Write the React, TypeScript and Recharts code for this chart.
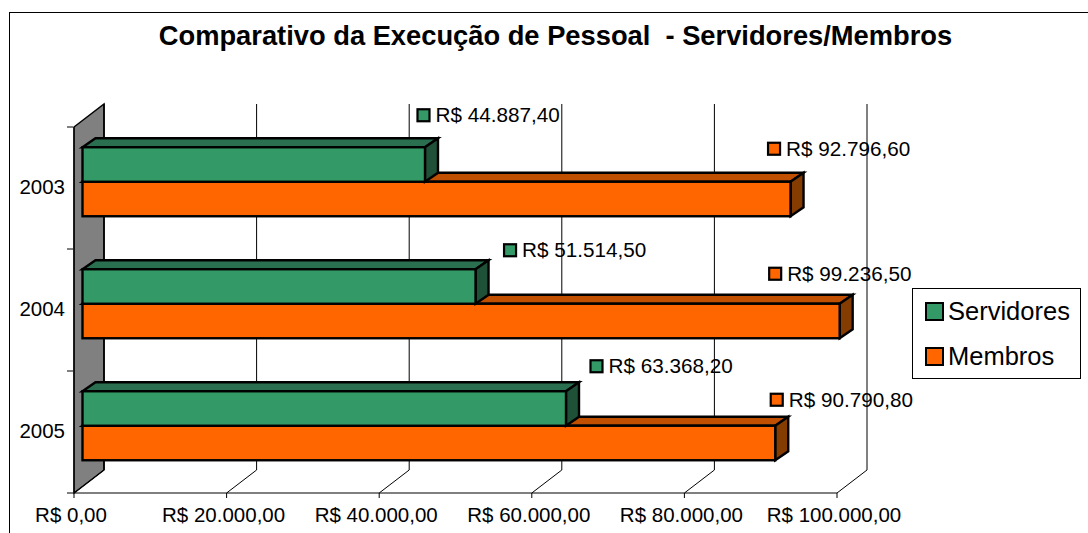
import { BarChart, Bar, XAxis, YAxis, CartesianGrid, LabelList, Legend } from 'recharts'

const years = ['2003', '2004', '2005']
const servidores = [44887.4, 51514.5, 63368.2]
const membros = [92796.6, 99236.5, 90790.8]
const valueTicks = [0, 20000, 40000, 60000, 80000, 100000]

const chartData = years.map((year, i) => ({
  year,
  Servidores: servidores[i],
  Membros: membros[i],
}))

// 3D look of the Excel chart
const WALL_DX = 30
const WALL_DY = -23
const BAR_DX = 13
const BAR_DY = -9
const BAR_SIZE = 34.5
const BAND = 122
const FONT = '"Liberation Sans", Arial, sans-serif'

// the labels were dragged by hand in the original, [dx, dy] from the bar's front-top end
const servidoresNudge = [[-8, -32], [28, -19], [24, -25]]
const membrosNudge = [[-23, -33], [-71, -30], [-5, -26]]

const formatBRL = (value: number) =>
  `R$ ${value.toLocaleString('pt-BR', { minimumFractionDigits: 2, maximumFractionDigits: 2 })}`

const GREEN = { front: '#339966', top: '#2A7050', side: '#1F5038' }
const ORANGE = { front: '#FF6600', top: '#C05000', side: '#843C00' }

// shift of each series from the centre of its band, both bars sit on their own y axis
// so that the lower one can be painted first
function Bar3D(props: any) {
  const { x, y, width, height, colors, shift } = props
  const left = x + 8.5
  const top = y - 6.5 + shift
  const right = left + width
  const bottom = top + height
  return (
    <g stroke="#000" strokeWidth={2.4} strokeLinejoin="miter">
      <polygon
        points={`${left},${top} ${left + BAR_DX},${top + BAR_DY} ${right + BAR_DX},${top + BAR_DY} ${right},${top}`}
        fill={colors.top}
      />
      <polygon
        points={`${right},${top} ${right + BAR_DX},${top + BAR_DY} ${right + BAR_DX},${bottom + BAR_DY} ${right},${bottom}`}
        fill={colors.side}
      />
      <rect x={left} y={top} width={width} height={height} fill={colors.front} />
    </g>
  )
}

function WallLine(props: any) {
  const { x1, y1, y2, index } = props
  const top = Math.min(y1, y2)
  const bottom = Math.max(y1, y2)
  return (
    <g>
      {index === 0 && (
        <polygon
          points={`${x1},${top} ${x1 + WALL_DX},${top + WALL_DY} ${x1 + WALL_DX},${bottom + WALL_DY} ${x1},${bottom}`}
          fill="#808080"
          stroke="#000"
          strokeWidth={1.5}
        />
      )}
      <line x1={x1 + WALL_DX} y1={top + WALL_DY} x2={x1 + WALL_DX} y2={bottom + WALL_DY} stroke="#000" strokeWidth={index === 0 ? 1.5 : 1} />
      <line x1={x1} y1={bottom} x2={x1 + WALL_DX} y2={bottom + WALL_DY} stroke="#000" strokeWidth={1} />
    </g>
  )
}

function YearTick(props: any) {
  const { x, y, payload, index } = props
  return (
    <g>
      <text x={x - 1} y={y - 2} textAnchor="end" dominantBaseline="central" fontSize={20.5} fontFamily={FONT} fill="#000">
        {payload.value}
      </text>
      <line x1={x + 1} x2={x + 7} y1={y - BAND / 2} y2={y - BAND / 2} stroke="#000" />
      {index === years.length - 1 && <line x1={x + 1} x2={x + 7} y1={y + BAND / 2} y2={y + BAND / 2} stroke="#000" />}
    </g>
  )
}

function makeBarLabel(nudges: number[][], colors: { front: string }, shift: number) {
  return function BarLabel(props: any) {
    const { x, y, width, value, index } = props
    const [dx, dy] = nudges[index]
    const lx = x + 9 + width + dx
    const ly = y - 6.5 + shift + dy
    return (
      <g>
        <rect x={lx} y={ly - 6} width={12} height={12} fill={colors.front} stroke="#000" strokeWidth={2.2} />
        <text x={lx + 18} y={ly - 0.5} dominantBaseline="central" fontSize={20.7} fontFamily={FONT} fill="#000">
          {formatBRL(value)}
        </text>
      </g>
    )
  }
}

function LegendBox({ payload }: any) {
  const items = [...(payload ?? [])].reverse()
  return (
    <div style={{ width: 169, height: 91, border: '1px solid #000', background: '#fff', boxSizing: 'border-box', fontFamily: FONT, fontSize: 25.5, color: '#000' }}>
      {items.map((item: any) => (
        <div key={item.value} style={{ display: 'flex', alignItems: 'center', height: 45, paddingLeft: 12 }}>
          <span style={{ width: 15, height: 15, background: item.color, border: '2px solid #000', marginRight: 4, flex: 'none' }} />
          {item.value}
        </div>
      ))}
    </div>
  )
}

export default function App() {
  return (
    <div style={{ position: 'absolute', left: 0, top: 0, width: 1088, height: 533, background: '#fff', overflow: 'hidden' }}>
      <div style={{ position: 'absolute', left: 9, top: 12, width: 1100, height: 540, border: '1px solid #000', boxSizing: 'border-box' }} />
      <BarChart
        width={1088}
        height={533}
        data={chartData}
        layout="vertical"
        barSize={BAR_SIZE}
        margin={{ top: 127, right: 251, bottom: 0, left: 14 }}
      >
        <CartesianGrid horizontal={false} vertical={(p: any) => <WallLine {...p} />} />
        <XAxis
          type="number"
          domain={[0, 100000]}
          ticks={valueTicks}
          interval={0}
          height={40}
          tickFormatter={formatBRL}
          tick={{ fontSize: 20.5, fontFamily: FONT, fill: '#000', dx: -3 }}
          tickSize={5}
          tickMargin={9}
          stroke="#000"
        />
        <YAxis yAxisId="front" type="category" dataKey="year" width={60} axisLine={{ stroke: '#000' }} tickLine={false} tick={<YearTick />} />
        <YAxis yAxisId="back" type="category" dataKey="year" width={0} hide />
        <Legend
          layout="vertical"
          align="center"
          verticalAlign="middle"
          content={<LegendBox />}
          wrapperStyle={{ left: 912, top: 288, width: 169, height: 91 }}
        />
        <Bar
          yAxisId="back"
          dataKey="Membros"
          fill={ORANGE.front}
          isAnimationActive={false}
          shape={<Bar3D colors={ORANGE} shift={BAR_SIZE / 2} />}
        >
          <LabelList dataKey="Membros" content={makeBarLabel(membrosNudge, ORANGE, BAR_SIZE / 2)} />
        </Bar>
        <Bar
          yAxisId="front"
          dataKey="Servidores"
          fill={GREEN.front}
          isAnimationActive={false}
          shape={<Bar3D colors={GREEN} shift={-BAR_SIZE / 2} />}
        >
          <LabelList dataKey="Servidores" content={makeBarLabel(servidoresNudge, GREEN, -BAR_SIZE / 2)} />
        </Bar>
      </BarChart>
      <div style={{ position: 'absolute', left: 0, top: 19, width: 1111, textAlign: 'center', fontFamily: FONT, fontWeight: 'bold', fontSize: 27.3, lineHeight: '34px', color: '#000', whiteSpace: 'pre' }}>
        Comparativo da Execução de Pessoal  - Servidores/Membros
      </div>
    </div>
  )
}
